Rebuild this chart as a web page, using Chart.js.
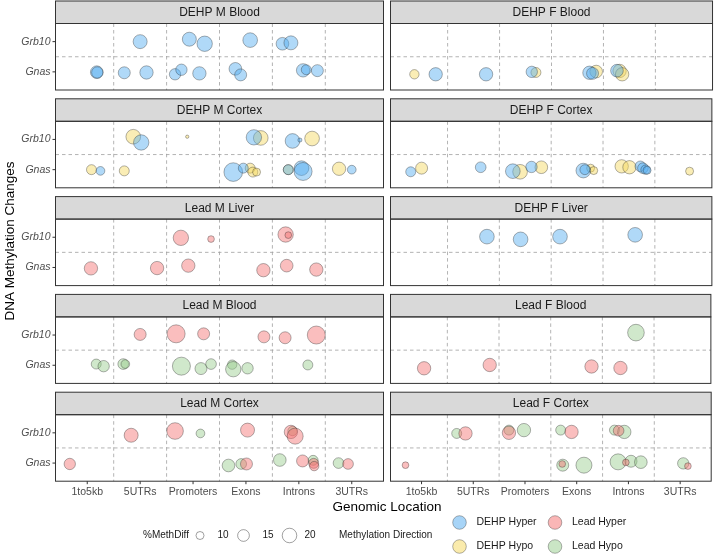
<!DOCTYPE html>
<html>
<head>
<meta charset="utf-8">
<script src="https://cdn.jsdelivr.net/npm/chart.js@4.4.1/dist/chart.umd.min.js"></script>
<style>
  html, body { margin: 0; padding: 0; background: #fff; }
  #wrap { position: relative; width: 720px; height: 554px; overflow: hidden; }
  #wrap canvas { position: absolute; left: 0; top: 0; }
</style>
</head>
<body>
<div id="wrap"></div>
<script>
const locations = ['1to5kb', '5UTRs', 'Promoters', 'Exons', 'Introns', '3UTRs'];
const genes = ['Gnas', 'Grb10'];
const directions = ['DEHP Hyper', 'DEHP Hypo', 'Lead Hyper', 'Lead Hypo'];
const sizeBreaks = [10, 15, 20];
const panelTitles = [
  'DEHP M Blood', 'DEHP F Blood',
  'DEHP M Cortex', 'DEHP F Cortex',
  'Lead M Liver', 'DEHP F Liver',
  'Lead M Blood', 'Lead F Blood',
  'Lead M Cortex', 'Lead F Cortex'
];

// point = [location (1..6, jittered), gene (1 Gnas, 2 Grb10, jittered), %MethDiff, direction index]
const dehpMBlood = [
  [2.00, 2.00, 18.9, 0], [2.93, 2.08, 18.9, 0], [3.22, 1.93, 21.6, 0],
  [4.08, 2.05, 20.2, 0], [4.69, 1.93, 16.5, 0], [4.85, 1.96, 18.9, 0],
  [1.18, 0.99, 16.5, 0], [1.19, 0.98, 14.4, 0], [1.70, 0.97, 15.4, 0],
  [2.12, 0.98, 17.7, 0], [2.66, 0.92, 14.4, 0], [2.78, 1.07, 14.4, 0],
  [3.12, 0.95, 17.7, 0], [3.80, 1.10, 16.5, 0], [3.90, 0.90, 15.4, 0],
  [5.08, 1.05, 17.7, 0], [5.14, 1.07, 12.4, 0], [5.35, 1.04, 15.4, 0]
];
const dehpFBlood = [
  [0.86, 0.92, 11.6, 1], [1.27, 0.92, 17.7, 0], [2.24, 0.92, 17.7, 0],
  [3.12, 1.00, 14.4, 0], [3.20, 0.98, 12.4, 1], [4.23, 0.97, 17.7, 0],
  [4.29, 0.95, 15.4, 0], [4.36, 1.01, 16.5, 1], [4.76, 1.04, 16.5, 0],
  [4.81, 1.03, 17.7, 1], [4.86, 0.92, 17.7, 1]
];
const dehpMCortex = [
  [1.87, 2.09, 20.2, 1], [2.02, 1.90, 21.6, 0], [2.89, 2.09, 6.4, 1],
  [4.15, 2.07, 21.6, 0], [4.28, 2.05, 20.2, 1], [4.88, 1.95, 20.2, 0],
  [5.02, 1.98, 6.8, 0], [5.25, 2.03, 20.2, 1],
  [1.08, 1.00, 12.4, 1], [1.25, 0.96, 10.8, 0], [1.70, 0.96, 12.4, 1],
  [3.76, 0.92, 29.2, 0], [3.95, 1.05, 12.4, 0], [4.08, 1.05, 12.4, 1],
  [4.13, 0.92, 12.4, 1], [4.20, 0.92, 10.0, 1], [4.80, 1.00, 12.4, 0],
  [4.80, 1.00, 12.4, 1], [5.05, 1.05, 20.2, 0], [5.08, 0.94, 27.6, 0],
  [5.76, 1.03, 17.7, 1], [6.00, 1.00, 10.8, 0]
];
const dehpFCortex = [
  [0.79, 0.93, 12.4, 0], [1.00, 1.05, 15.4, 1], [2.14, 1.08, 13.4, 0],
  [2.76, 0.95, 20.2, 0], [2.90, 0.93, 20.2, 1], [3.12, 1.09, 14.4, 0],
  [3.31, 1.08, 16.5, 1], [4.12, 0.97, 20.2, 0], [4.15, 1.00, 12.4, 0],
  [4.26, 1.05, 10.0, 1], [4.32, 0.97, 10.0, 1], [4.86, 1.11, 17.7, 1],
  [5.01, 1.08, 17.7, 1], [5.22, 1.11, 13.4, 0], [5.27, 1.05, 13.4, 0],
  [5.32, 1.00, 11.6, 0], [5.35, 0.98, 10.0, 0], [6.17, 0.95, 10.0, 1]
];
const leadMLiver = [
  [2.77, 1.98, 21.6, 2], [3.34, 1.94, 8.7, 2], [4.75, 2.09, 21.6, 2], [4.80, 2.07, 8.7, 2],
  [1.07, 0.97, 17.7, 2], [2.32, 0.98, 17.7, 2], [2.91, 1.06, 17.7, 2],
  [4.33, 0.91, 17.7, 2], [4.77, 1.06, 16.5, 2], [5.33, 0.93, 17.7, 2]
];
const dehpFLiver = [
  [2.26, 2.02, 20.2, 0], [2.91, 1.93, 20.2, 0], [3.67, 2.02, 20.2, 0], [5.12, 2.08, 20.2, 0]
];
const leadMBlood = [
  [2.00, 2.02, 15.4, 2], [2.68, 2.04, 27.6, 2], [3.20, 2.04, 15.4, 2],
  [4.34, 1.94, 15.4, 2], [4.74, 1.91, 15.4, 2], [5.33, 2.00, 27.6, 2],
  [1.17, 1.04, 12.4, 3], [1.31, 0.97, 14.4, 3], [1.68, 1.04, 13.4, 3],
  [1.72, 1.04, 10.8, 3], [2.78, 0.97, 27.6, 3], [3.15, 0.89, 15.4, 3],
  [3.34, 1.04, 13.4, 3], [3.74, 1.02, 11.6, 3], [3.76, 0.87, 21.6, 3],
  [4.03, 0.90, 14.4, 3], [5.17, 1.01, 12.4, 3]
];
const leadFBlood = [
  [5.15, 2.08, 24.4, 3],
  [1.05, 0.90, 17.7, 2], [2.32, 1.01, 17.7, 2], [4.29, 0.96, 17.7, 2], [4.85, 0.91, 17.7, 2]
];
const leadMCortex = [
  [1.83, 1.92, 18.9, 2], [2.66, 2.06, 24.4, 2], [3.14, 1.98, 10.8, 3],
  [4.03, 2.09, 18.9, 2], [4.85, 2.03, 17.7, 2], [4.88, 2.06, 11.6, 3],
  [4.93, 1.89, 23.0, 2],
  [0.67, 0.97, 14.4, 2], [3.67, 0.92, 16.5, 3], [3.91, 0.97, 13.4, 3],
  [4.01, 0.97, 15.4, 2], [4.64, 1.10, 16.5, 3], [5.07, 1.07, 15.4, 2],
  [5.27, 1.09, 12.4, 3], [5.28, 0.99, 12.4, 2], [5.29, 0.90, 11.6, 2],
  [5.75, 1.00, 13.4, 3], [5.93, 0.97, 13.4, 2]
];
const leadFCortex = [
  [1.68, 1.98, 12.4, 3], [1.85, 1.98, 17.7, 2], [2.69, 2.00, 17.7, 2],
  [2.69, 2.09, 12.4, 3], [2.98, 2.09, 17.7, 3], [3.69, 2.09, 12.4, 3],
  [3.90, 2.03, 17.7, 2], [4.73, 2.09, 12.4, 3], [4.81, 2.07, 13.4, 2],
  [4.92, 2.03, 17.7, 3],
  [0.69, 0.93, 8.7, 2], [3.73, 0.93, 15.4, 3], [3.72, 0.97, 8.7, 2],
  [4.14, 0.93, 23.0, 3], [4.80, 1.04, 23.0, 3], [4.95, 1.02, 8.7, 2],
  [5.05, 1.06, 15.4, 3], [5.24, 1.03, 16.5, 3], [6.06, 0.99, 14.4, 3],
  [6.15, 0.90, 8.7, 2]
];

const panelData = [
  dehpMBlood, dehpFBlood, dehpMCortex, dehpFCortex, leadMLiver,
  dehpFLiver, leadMBlood, leadFBlood, leadMCortex, leadFCortex
];

const W = 720, H = 554;
const colLeft = [55.5, 390.5];
const panelW = 328;
const rowTop = 1, rowPitch = 97.8, stripH = 22.5, plotH = 66.5;
const fontFamily = '"Liberation Sans", Arial, sans-serif';
const fills = ['rgba(80,170,240,0.45)', 'rgba(245,215,90,0.45)', 'rgba(245,110,110,0.45)', 'rgba(150,205,140,0.45)'];
const keyFills = ['rgba(80,170,240,0.5)', 'rgba(245,215,90,0.5)', 'rgba(245,110,110,0.5)', 'rgba(150,205,140,0.5)'];
const outline = 'rgba(40,40,40,0.45)';

function radiusFor(v) {
  return Math.sqrt(Math.max(3.7 * v - 21, 1));
}

const facetPlugin = {
  id: 'facet',
  beforeDatasetsDraw(chart, args, opts) {
    const { ctx, chartArea: a, scales: { x, y } } = chart;
    ctx.save();
    ctx.strokeStyle = '#a0a0a0';
    ctx.lineWidth = 0.8;
    ctx.setLineDash([3.5, 3]);
    ctx.beginPath();
    for (let i = 1; i < locations.length; i++) {
      const px = x.getPixelForValue(i + 0.5);
      ctx.moveTo(px, a.top);
      ctx.lineTo(px, a.bottom);
    }
    const py = y.getPixelForValue(1.5);
    ctx.moveTo(a.left, py);
    ctx.lineTo(a.right, py);
    ctx.stroke();
    ctx.restore();
  },
  afterDraw(chart, args, opts) {
    const { ctx, chartArea: a, scales: { x, y } } = chart;
    ctx.save();
    // strip
    ctx.fillStyle = '#d9d9d9';
    ctx.fillRect(a.left, a.top - stripH, a.right - a.left, stripH);
    ctx.strokeStyle = '#333333';
    ctx.lineWidth = 1;
    ctx.strokeRect(a.left, a.top - stripH, a.right - a.left, stripH);
    ctx.strokeRect(a.left, a.top, a.right - a.left, a.bottom - a.top);
    ctx.fillStyle = '#1a1a1a';
    ctx.font = '12px ' + fontFamily;
    ctx.textAlign = 'center';
    ctx.textBaseline = 'middle';
    ctx.fillText(opts.title, (a.left + a.right) / 2, a.top - stripH / 2 + 0.5);

    ctx.strokeStyle = '#333333';
    ctx.fillStyle = '#4d4d4d';
    if (opts.showY) {
      ctx.font = 'italic 10.5px ' + fontFamily;
      ctx.textAlign = 'right';
      genes.forEach((g, i) => {
        const py = y.getPixelForValue(i + 1);
        ctx.beginPath();
        ctx.moveTo(a.left - 3, py);
        ctx.lineTo(a.left, py);
        ctx.stroke();
        ctx.fillText(g, a.left - 5, py);
      });
    }
    if (opts.showX) {
      ctx.font = '10.5px ' + fontFamily;
      ctx.textAlign = 'center';
      locations.forEach((l, i) => {
        const px = x.getPixelForValue(i + 1);
        ctx.beginPath();
        ctx.moveTo(px, a.bottom);
        ctx.lineTo(px, a.bottom + 3);
        ctx.stroke();
        ctx.fillText(l, px, a.bottom + 11);
      });
    }
    ctx.restore();
  }
};

const wrap = document.getElementById('wrap');

panelData.forEach((points, p) => {
  const col = p % 2;
  const row = Math.floor(p / 2);
  const left = colLeft[col];
  const top = rowTop + row * rowPitch + stripH;
  const canvas = document.createElement('canvas');
  canvas.width = W;
  canvas.height = H;
  canvas.style.width = W + 'px';
  canvas.style.height = H + 'px';
  wrap.appendChild(canvas);

  const datasets = directions.map((d, k) => ({
    label: d,
    data: points.filter(pt => pt[3] === k).map(pt => ({ x: pt[0], y: pt[1], r: radiusFor(pt[2]) })),
    backgroundColor: fills[k],
    borderColor: outline,
    borderWidth: 0.8,
    hoverRadius: 0
  }));

  new Chart(canvas, {
    type: 'bubble',
    data: { datasets: datasets },
    options: {
      responsive: false,
      animation: false,
      events: [],
      layout: {
        padding: { left: left, top: top, right: W - left - panelW, bottom: H - top - plotH }
      },
      scales: {
        x: { type: 'linear', min: 0.4, max: 6.6, display: false },
        y: { type: 'linear', min: 0.4, max: 2.6, display: false }
      },
      plugins: {
        legend: { display: false },
        tooltip: { enabled: false },
        facet: { title: panelTitles[p], showY: col === 0, showX: row === 4 }
      }
    },
    plugins: [facetPlugin]
  });
});

// axis titles and legend
const over = document.createElement('canvas');
over.width = W;
over.height = H;
wrap.appendChild(over);
const ctx = over.getContext('2d');
ctx.fillStyle = '#000';
ctx.textBaseline = 'middle';
ctx.textAlign = 'center';
ctx.font = '13.5px ' + fontFamily;
ctx.fillText('Genomic Location', (colLeft[0] + colLeft[1] + panelW) / 2, 507);
ctx.save();
ctx.translate(10, 241);
ctx.rotate(-Math.PI / 2);
ctx.fillText('DNA Methylation Changes', 0, 0);
ctx.restore();

ctx.font = '10px ' + fontFamily;
ctx.fillStyle = '#1a1a1a';
ctx.textAlign = 'right';
ctx.fillText('%MethDiff', 189, 535.5);
const sizeX = [200, 243.5, 289.5];
const sizeLabelX = [223, 268, 310];
sizeBreaks.forEach((v, i) => {
  ctx.beginPath();
  ctx.arc(sizeX[i], 535.5, radiusFor(v), 0, Math.PI * 2);
  ctx.fillStyle = '#ffffff';
  ctx.fill();
  ctx.strokeStyle = 'rgba(40,40,40,0.55)';
  ctx.lineWidth = 0.8;
  ctx.stroke();
  ctx.fillStyle = '#1a1a1a';
  ctx.textAlign = 'center';
  ctx.fillText(String(v), sizeLabelX[i], 535.5);
});
ctx.textAlign = 'left';
ctx.fillText('Methylation Direction', 339, 535.5);
const keyX = [459.5, 459.5, 555, 555];
const keyY = [522.5, 546.5, 522.5, 546.5];
directions.forEach((d, k) => {
  ctx.beginPath();
  ctx.arc(keyX[k], keyY[k], 6.8, 0, Math.PI * 2);
  ctx.fillStyle = keyFills[k];
  ctx.fill();
  ctx.strokeStyle = outline;
  ctx.lineWidth = 0.8;
  ctx.stroke();
  ctx.fillStyle = '#1a1a1a';
  ctx.font = '10.5px ' + fontFamily;
  ctx.fillText(d, keyX[k] + 17, keyY[k]);
});
</script>
</body>
</html>
